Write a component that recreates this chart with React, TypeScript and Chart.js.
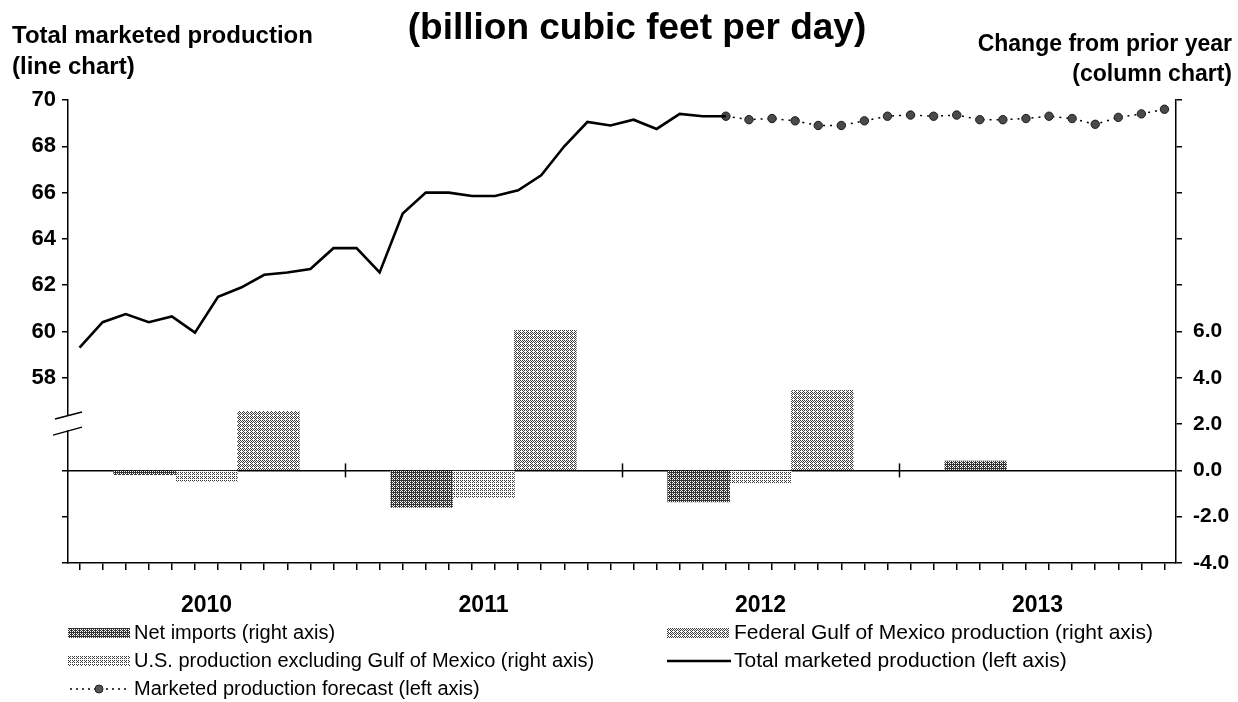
import React, { useEffect, useRef } from 'react';
import { Chart, registerables } from 'chart.js';

Chart.register(...registerables);

// ---------------- data ----------------
const years = ['2010', '2011', '2012', '2013'];
const netImports = [-0.18, -1.6, -1.36, 0.4];
const usExclGulf: (number | null)[] = [-0.47, -1.17, -0.57, null];
const federalGulf: (number | null)[] = [2.55, 6.05, 3.46, null];

// monthly, Jan 2010 .. May 2012
const totalProduction = [
  59.3, 60.4, 60.75, 60.4, 60.65, 59.95, 61.5, 61.9, 62.45, 62.55, 62.7, 63.6,
  63.6, 62.55, 65.1, 66.0, 66.0, 65.85, 65.85, 66.1, 66.75, 68.0, 69.05, 68.9,
  69.15, 68.75, 69.4, 69.3, 69.3,
];
// monthly, May 2012 .. Dec 2013
const forecastProduction = [
  69.3, 69.15, 69.2, 69.1, 68.9, 68.9, 69.1, 69.3,
  69.35, 69.3, 69.35, 69.15, 69.15, 69.2, 69.3, 69.2, 68.95, 69.25, 69.4, 69.6,
];
const forecastStartMonth = 28; // May 2012 (months since Jan 2010)

const leftTickLabels = [58, 60, 62, 64, 66, 68, 70];
const rightTickLabels = [-4, -2, 0, 2, 4, 6];

const titleText = '(billion cubic feet per day)';
const leftTitle = ['Total marketed production', '(line chart)'];
const rightTitle = ['Change from prior year', '(column chart)'];
const legendLabels = {
  net: 'Net imports (right axis)',
  fed: 'Federal Gulf of Mexico production (right axis)',
  us: 'U.S. production excluding Gulf of Mexico (right axis)',
  total: 'Total marketed production (left axis)',
  fc: 'Marketed production forecast (left axis)',
};

const FONT = '"Liberation Sans", Arial, sans-serif';
const MONTHS_PER_YEAR = 12;
const GROUP_FRACTION = 0.67; // share of a year occupied by the 3 columns

// place the s-th series (0..2) of the column group for year k on the month axis
function barX(k: number, s: number) {
  const slot = (MONTHS_PER_YEAR * GROUP_FRACTION) / 3;
  return k * MONTHS_PER_YEAR + MONTHS_PER_YEAR / 2 + (s - 1) * slot;
}

function makePattern(ctx: CanvasRenderingContext2D, dark: string, k: number) {
  const c = document.createElement('canvas');
  c.width = 4;
  c.height = 4;
  const g = c.getContext('2d')!;
  g.fillStyle = '#ffffff';
  g.fillRect(0, 0, 4, 4);
  g.fillStyle = dark;
  const bayer = [
    [0, 8, 2, 10],
    [12, 4, 14, 6],
    [3, 11, 1, 9],
    [15, 7, 13, 5],
  ];
  for (let y = 0; y < 4; y++)
    for (let x = 0; x < 4; x++) if (bayer[y][x] < k) g.fillRect(x, y, 1, 1);
  return ctx.createPattern(c, 'repeat')!;
}

export default function App() {
  const ref = useRef<HTMLCanvasElement>(null);

  useEffect(() => {
    const canvas = ref.current!;
    const ctx0 = canvas.getContext('2d')!;
    const patNet = makePattern(ctx0, '#333333', 11);
    const patFed = makePattern(ctx0, '#3a3a3a', 7);
    const patUs = makePattern(ctx0, '#3a3a3a', 5);

    const decor = {
      id: 'decor',
      afterDraw(chart: any) {
        const ctx: CanvasRenderingContext2D = chart.ctx;
        const xs = chart.scales.x;
        const yR = chart.scales.yR;
        const yL = chart.scales.yL;
        const area = chart.chartArea;
        ctx.save();
        ctx.strokeStyle = '#000';
        ctx.fillStyle = '#000';

        // year ticks crossing the zero line
        const y0 = yR.getPixelForValue(0);
        ctx.lineWidth = 1.5;
        for (const m of [12, 24, 36]) {
          const px = Math.round(xs.getPixelForValue(m)) + 0.5;
          ctx.beginPath();
          ctx.moveTo(px, y0 - 7);
          ctx.lineTo(px, y0 + 7);
          ctx.stroke();
        }

        // axis break on the left axis
        const cy = yL.getPixelForValue(56);
        const ax = area.left;
        ctx.fillStyle = '#fff';
        ctx.fillRect(ax - 3, cy - 9, 6, 15);
        ctx.lineWidth = 1.5;
        ctx.beginPath();
        ctx.moveTo(ax - 13, cy - 5);
        ctx.lineTo(ax + 14, cy - 12);
        ctx.moveTo(ax - 15, cy + 11);
        ctx.lineTo(ax + 14, cy + 3);
        ctx.stroke();

        // titles
        ctx.fillStyle = '#000';
        ctx.textBaseline = 'middle';
        ctx.font = `bold 37px ${FONT}`;
        ctx.textAlign = 'center';
        ctx.fillText(titleText, 637, 29);
        ctx.font = `bold 24px ${FONT}`;
        ctx.textAlign = 'left';
        ctx.fillText(leftTitle[0], 12, 36);
        ctx.fillText(leftTitle[1], 12, 67);
        ctx.font = `bold 23px ${FONT}`;
        ctx.textAlign = 'right';
        ctx.fillText(rightTitle[0], 1232, 45);
        ctx.fillText(rightTitle[1], 1232, 75);

        // legend
        const sw = (x: number, y: number, pat: CanvasPattern) => {
          ctx.fillStyle = pat;
          ctx.fillRect(x, y - 5, 62, 10);
        };
        ctx.textAlign = 'left';
        const r1 = 633, r2 = 661, r3 = 689;
        sw(68, r1, patNet);
        sw(68, r2, patUs);
        sw(667, r1, patFed);
        ctx.fillStyle = '#000';
        ctx.font = `20px ${FONT}`;
        ctx.fillText(legendLabels.net, 134, r1);
        ctx.fillText(legendLabels.us, 134, r2);
        ctx.fillText(legendLabels.fc, 134, r3);
        ctx.font = `21px ${FONT}`;
        ctx.fillText(legendLabels.fed, 734, r1);
        ctx.fillText(legendLabels.total, 734, r2);
        // total line swatch
        ctx.lineWidth = 2.5;
        ctx.beginPath();
        ctx.moveTo(667, r2);
        ctx.lineTo(731, r2);
        ctx.stroke();
        // forecast swatch
        ctx.lineWidth = 1.5;
        ctx.setLineDash([2, 4]);
        ctx.beginPath();
        ctx.moveTo(70, r3);
        ctx.lineTo(128, r3);
        ctx.stroke();
        ctx.setLineDash([]);
        ctx.beginPath();
        ctx.arc(99, r3, 4, 0, Math.PI * 2);
        ctx.fillStyle = '#555';
        ctx.fill();
        ctx.lineWidth = 1;
        ctx.strokeStyle = '#222';
        ctx.stroke();
        ctx.restore();
      },
    };

    const barDs = (label: string, values: (number | null)[], s: number, pat: CanvasPattern) =>
      ({
        type: 'bar',
        label,
        data: values.map((v, k) => ({ x: barX(k, s), y: v })),
        xAxisID: 'xb',
        yAxisID: 'yR',
        backgroundColor: pat,
        borderWidth: 0,
        grouped: false,
        categoryPercentage: 1,
        barPercentage: 1,
        order: 1,
      } as any);

    const chart = new Chart(canvas, {
      type: 'bar',
      data: {
        datasets: [
          {
            type: 'line',
            label: legendLabels.total,
            data: totalProduction.map((v, i) => ({ x: i + 0.5, y: v })),
            xAxisID: 'x',
            yAxisID: 'yL',
            borderColor: '#000',
            borderWidth: 2.6,
            pointRadius: 0,
            tension: 0,
            order: 0,
          } as any,
          {
            type: 'line',
            label: legendLabels.fc,
            data: forecastProduction.map((v, i) => ({ x: forecastStartMonth + i + 0.5, y: v })),
            xAxisID: 'x',
            yAxisID: 'yL',
            borderColor: '#000',
            borderWidth: 1.5,
            borderDash: [2, 5],
            pointRadius: 4.2,
            pointBackgroundColor: '#4a4a4a',
            pointBorderColor: '#1a1a1a',
            pointBorderWidth: 1,
            tension: 0,
            order: 0,
          } as any,
          barDs(legendLabels.net, netImports, 0, patNet),
          barDs(legendLabels.us, usExclGulf, 1, patUs),
          barDs(legendLabels.fed, federalGulf, 2, patFed),
        ],
      },
      options: {
        animation: false,
        responsive: false,
        maintainAspectRatio: false,
        layout: { padding: { left: 0, right: 0, top: 100, bottom: 79 } },
        plugins: { legend: { display: false }, tooltip: { enabled: false }, title: { display: false } },
        scales: {
          x: {
            type: 'linear',
            position: 'bottom',
            min: 0,
            max: 48,
            offset: false,
            afterFit: (s: any) => {
              s.height = 60;
            },
            afterBuildTicks: (s: any) => {
              s.ticks = Array.from({ length: 49 }, (_, i) => ({ value: i }));
            },
            ticks: {
              autoSkip: false,
              maxRotation: 0,
              padding: 22,
              color: '#000',
              font: { family: FONT, size: 23, weight: 'bold' },
              callback: (v: any) => (Number(v) % 12 === 6 ? years[(Number(v) - 6) / 12] : ''),
            },
            grid: { drawOnChartArea: false, tickLength: 7, color: '#000', lineWidth: 1.5 },
            border: { display: true, color: '#000', width: 1.5 },
          } as any,
          xb: {
            type: 'linear',
            position: 'bottom',
            min: 0,
            max: 48,
            offset: false,
            display: false,
            afterBuildTicks: (s: any) => {
              s.ticks = Array.from({ length: 5 }, (_, i) => ({ value: i * 12 }));
            },
          } as any,
          yL: {
            type: 'linear',
            position: 'left',
            min: 50,
            max: 70,
            afterFit: (s: any) => {
              s.width = 68;
            },
            afterBuildTicks: (s: any) => {
              s.ticks = Array.from({ length: 11 }, (_, i) => ({ value: 50 + i * 2 }));
            },
            ticks: {
              padding: 6,
              color: '#000',
              font: { family: FONT, size: 22, weight: 'bold' },
              callback: (v: any) => (leftTickLabels.includes(Number(v)) ? String(v) : ''),
            },
            grid: {
              drawOnChartArea: false,
              tickLength: 6,
              lineWidth: 1.5,
              color: (c: any) => (c.tick && c.tick.value === 56 ? 'rgba(0,0,0,0)' : '#000'),
            },
            border: { display: true, color: '#000', width: 1.5 },
          } as any,
          yR: {
            type: 'linear',
            position: 'right',
            min: -4,
            max: 16,
            afterFit: (s: any) => {
              s.width = 62;
            },
            afterBuildTicks: (s: any) => {
              s.ticks = Array.from({ length: 11 }, (_, i) => ({ value: -4 + i * 2 }));
            },
            ticks: {
              padding: 11,
              color: '#000',
              font: { family: FONT, size: 21, weight: 'bold' },
              callback: (v: any) => (rightTickLabels.includes(Number(v)) ? Number(v).toFixed(1) : ''),
            },
            grid: {
              drawOnChartArea: true,
              tickLength: 6,
              lineWidth: 1.5,
              color: (c: any) => (c.tick && c.tick.value === 0 ? '#000' : 'rgba(0,0,0,0)'),
              tickColor: '#000',
            },
            border: { display: true, color: '#000', width: 1.5 },
          } as any,
        },
      } as any,
      plugins: [decor],
    });

    return () => chart.destroy();
  }, []);

  return (
    <div style={{ position: 'absolute', left: 0, top: 0, width: 1238, height: 702, background: '#fff' }}>
      <canvas ref={ref} width={1238} height={702} style={{ display: 'block' }} />
    </div>
  );
}
